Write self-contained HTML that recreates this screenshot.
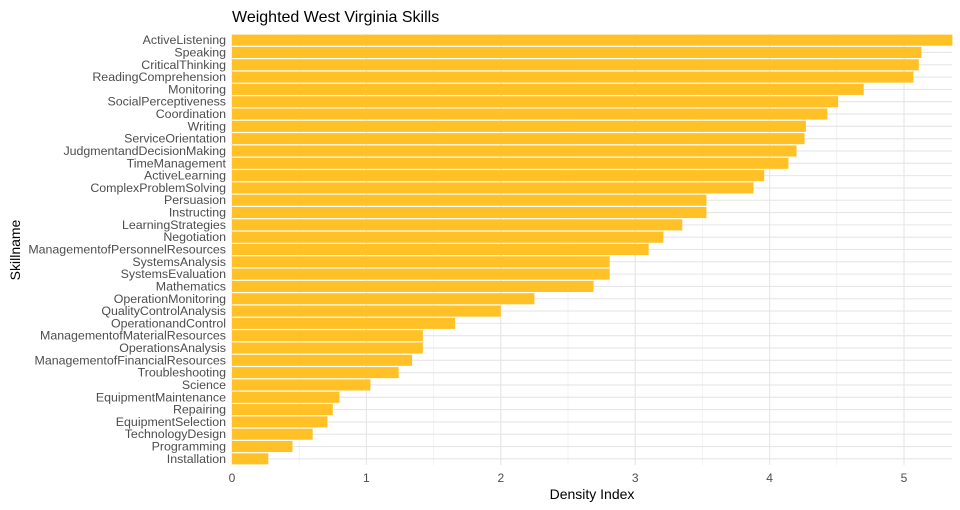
<!DOCTYPE html>
<html><head><meta charset="utf-8"><style>
html,body{margin:0;padding:0;background:#fff;}
svg{display:block;font-family:"Liberation Sans",Arial,sans-serif;}
</style></head><body>
<svg id="chart" width="960" height="510"></svg>
<script>
const categories=["ActiveListening","Speaking","CriticalThinking","ReadingComprehension","Monitoring","SocialPerceptiveness","Coordination","Writing","ServiceOrientation","JudgmentandDecisionMaking","TimeManagement","ActiveLearning","ComplexProblemSolving","Persuasion","Instructing","LearningStrategies","Negotiation","ManagementofPersonnelResources","SystemsAnalysis","SystemsEvaluation","Mathematics","OperationMonitoring","QualityControlAnalysis","OperationandControl","ManagementofMaterialResources","OperationsAnalysis","ManagementofFinancialResources","Troubleshooting","Science","EquipmentMaintenance","Repairing","EquipmentSelection","TechnologyDesign","Programming","Installation"];
const values=[5.36,5.13,5.11,5.07,4.70,4.51,4.43,4.27,4.26,4.20,4.14,3.96,3.88,3.53,3.53,3.35,3.21,3.10,2.81,2.81,2.69,2.25,2.00,1.66,1.42,1.42,1.34,1.24,1.03,0.80,0.75,0.71,0.60,0.45,0.27];
const xTicks=[0,1,2,3,4,5];
const xMinor=[0.5,1.5,2.5,3.5,4.5];
const NS="http://www.w3.org/2000/svg";
const svg=document.getElementById('chart');
const L=232,R=952,T=34,B=465,XMAX=5.357;
const x=v=>L+v/XMAX*(R-L);
const step=(B-T)/categories.length;
const yc=i=>T+step*(i+0.5);
function mk(tag,attrs,parent){const e=document.createElementNS(NS,tag);for(const k in attrs)e.setAttribute(k,attrs[k]);(parent||svg).appendChild(e);return e;}
const grid=mk('g',{});


xMinor.forEach(v=>mk('line',{x1:x(v),x2:x(v),y1:T,y2:B,stroke:'#ebebeb','stroke-width':0.6},grid));
xTicks.forEach(v=>mk('line',{x1:x(v),x2:x(v),y1:T,y2:B,stroke:'#e6e6e6','stroke-width':1.1},grid));
categories.forEach((c,i)=>mk('line',{x1:L,x2:R,y1:yc(i),y2:yc(i),stroke:'#e6e6e6','stroke-width':1.1},grid));
const bars=mk('g',{});


values.forEach((v,i)=>{
 const r=mk('rect',{x:L,y:yc(i)-step*0.45,width:Math.max(0,x(v)-L),height:step*0.9,fill:'#ffc125'},bars);
 
 
 const t=mk('text',{x:226,y:yc(i)+4,'text-anchor':'end','font-size':12.4,fill:'#4d4d4d'});
 t.textContent=categories[i];
 
 
});
xTicks.forEach(v=>{
 const t=mk('text',{x:x(v),y:482,'text-anchor':'middle','font-size':12,fill:'#4d4d4d'});
 t.textContent=v;
 
 
});
const xt=mk('text',{x:592,y:499,'text-anchor':'middle','font-size':14,fill:'#000'});
xt.textContent='Density Index';


const yt=mk('text',{x:20,y:250,'text-anchor':'middle','font-size':14,fill:'#000',transform:'rotate(-90 20 250)'});
yt.textContent='Skillname';


const ti=mk('text',{x:232,y:22,'font-size':16,fill:'#000'});
ti.textContent='Weighted West Virginia Skills';


</script>
</body></html>
